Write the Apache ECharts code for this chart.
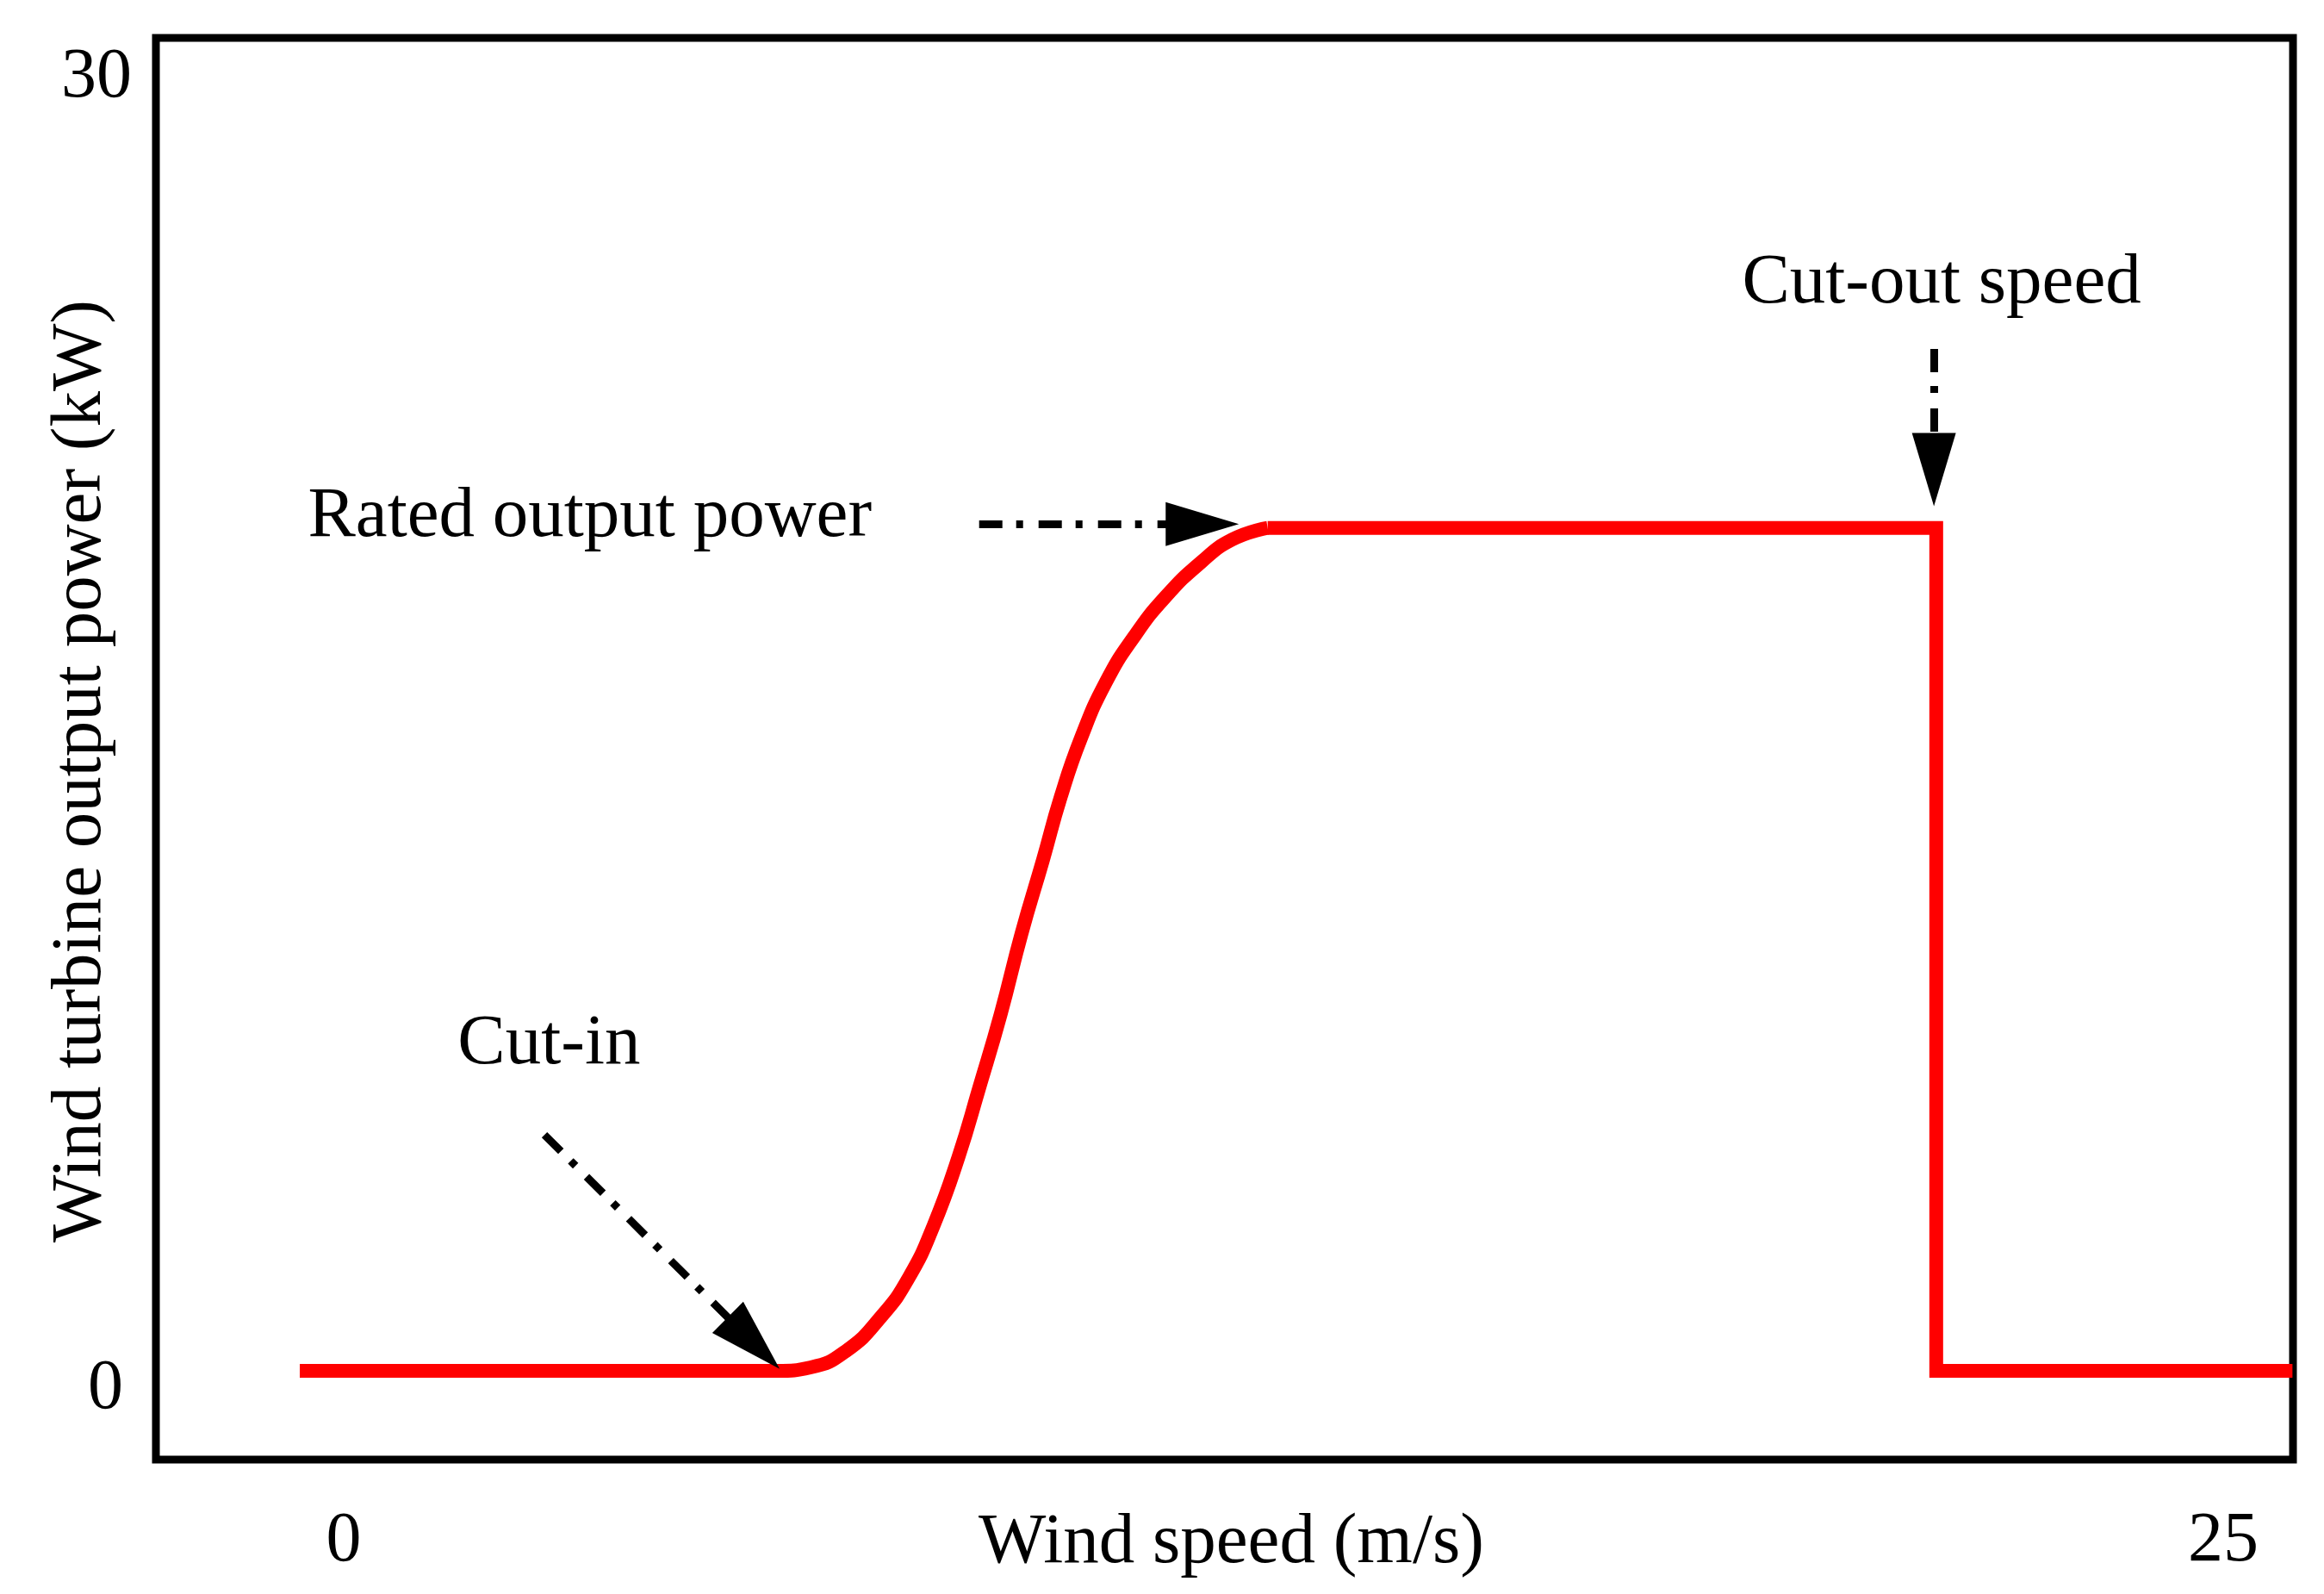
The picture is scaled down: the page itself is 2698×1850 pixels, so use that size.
<!DOCTYPE html>
<html>
<head>
<meta charset="utf-8">
<script src="https://cdn.jsdelivr.net/npm/echarts@6/dist/echarts.min.js"></script>
<style>
html,body{margin:0;padding:0;background:#fff;}
#chart{width:2698px;height:1850px;}
</style>
</head>
<body>
<div id="chart"></div>
<script>
// ---- data ----
const windSpeed = [0, 6.2, 6.64, 7.10, 7.56, 7.92, 8.24, 8.56, 8.83, 9.11, 9.38, 9.66, 9.89, 10.15, 10.48, 10.85, 11.25, 11.71, 12.12, 12.58, 21.27, 21.27, 25.9];
const power     = [0, 0,   0.08, 0.46, 1.26, 2.17, 3.37, 4.94, 6.54, 8.25, 10.11, 11.82, 13.27, 14.62, 15.94, 17.0, 17.90, 18.70, 19.23, 19.5, 19.5, 0, 0];
const riseEndIndex = 19; // the smooth rise ends where the rated plateau begins
const xTickValues = [0, 25];
const yTickValues = [0, 30];
const xAxisTitle = 'Wind speed (m/s)';
const yAxisTitle = 'Wind turbine output power (kW)';
// annotation texts and anchor points (data coordinates)
const annotationTexts  = ['Rated output power', 'Cut-in', 'Cut-out speed'];
const annotationPoints = [[3.77, 19.75], [3.24, 7.55], [21.34, 25.15]];
// arrows: [from, to] in data coordinates (to = arrow head centre)
const arrowLines = [
  [[8.83, 19.59], [11.73, 19.59]],
  [[3.18, 5.46], [5.90, 0.64]],
  [[21.24, 23.64], [21.24, 20.85]]
];

const FONT = '"Liberation Serif", "Times New Roman", serif';
const chart = echarts.init(document.getElementById('chart'), null, {renderer: 'canvas'});

const pts = windSpeed.map((x, i) => [x, power[i]]);
const risePart = pts.slice(0, riseEndIndex + 1);
const plateauPart = pts.slice(riseEndIndex);

const redLine = {color: '#ff0000', width: 16, join: 'miter'};

chart.setOption({
  animation: false,
  backgroundColor: '#ffffff',
  grid: {
    left: 181, top: 44, right: 36, bottom: 156,
    show: true, borderColor: '#000', borderWidth: 9,
    backgroundColor: 'transparent',
    containLabel: false,
    outerBoundsMode: 'none'
  },
  xAxis: {
    type: 'value',
    min: -1.87, max: 25.907,
    axisLine: {show: false},
    axisTick: {show: false},
    splitLine: {show: false},
    name: xAxisTitle,
    nameLocation: 'middle',
    nameMoveOverlap: false,
    nameGap: 56,
    nameTextStyle: {fontFamily: FONT, fontSize: 83, color: '#000', lineHeight: 83, padding: [0, 0, 0, 16]},
    axisLabel: {
      customValues: xTickValues,
      margin: 54,
      fontFamily: FONT, fontSize: 82, color: '#000', lineHeight: 82,
      formatter: v => v === 0 ? '{z|0}' : '{n|' + v + '}',
      rich: {
        z: {fontFamily: FONT, fontSize: 82, color: '#000', lineHeight: 82, padding: [0, 0, 0, 102]},
        n: {fontFamily: FONT, fontSize: 82, color: '#000', lineHeight: 82}
      }
    }
  },
  yAxis: {
    type: 'value',
    min: -2.053, max: 30.835,
    axisLine: {show: false},
    axisTick: {show: false},
    splitLine: {show: false},
    name: yAxisTitle,
    nameLocation: 'middle',
    nameMoveOverlap: false,
    nameGap: 45,
    nameTextStyle: {fontFamily: FONT, fontSize: 83, color: '#000', lineHeight: 83, padding: [0, 52, 0, 0]},
    axisLabel: {
      customValues: yTickValues,
      margin: 28,
      fontFamily: FONT, fontSize: 82, color: '#000', lineHeight: 82,
      formatter: v => v === 0 ? '{z|0}' : '{n|' + v + '}',
      rich: {
        z: {fontFamily: FONT, fontSize: 82, color: '#000', lineHeight: 82, padding: [42, 10, 0, 0]},
        n: {fontFamily: FONT, fontSize: 82, color: '#000', lineHeight: 82, padding: [10, 0, 0, 0]}
      }
    }
  },
  series: [{
    type: 'line',
    name: 'rise',
    data: risePart,
    smooth: 0.5,
    showSymbol: false,
    symbol: 'none',
    silent: true,
    lineStyle: redLine,
    z: 3
  }, {
    type: 'line',
    name: 'plateau',
    data: plateauPart,
    showSymbol: false,
    symbol: 'none',
    silent: true,
    lineStyle: redLine,
    z: 3,
    markLine: {
      silent: true,
      animation: false,
      symbol: ['none', 'triangle'],
      symbolSize: [51, 85],
      label: {show: false},
      emphasis: {disabled: true},
      lineStyle: {color: '#000', width: 9, type: [27, 16, 8, 18], opacity: 1},
      itemStyle: {color: '#000'},
      data: arrowLines.map(seg => [{coord: seg[0]}, {coord: seg[1]}])
    },
    markPoint: {
      silent: true,
      animation: false,
      symbol: 'circle',
      symbolSize: 1,
      itemStyle: {color: 'rgba(0,0,0,0)'},
      label: {
        show: true, position: 'inside',
        fontFamily: FONT, fontSize: 83, color: '#000', lineHeight: 83
      },
      data: annotationPoints.map((p, i) => ({
        coord: p,
        label: {formatter: annotationTexts[i]}
      }))
    }
  }]
});
</script>
</body>
</html>
